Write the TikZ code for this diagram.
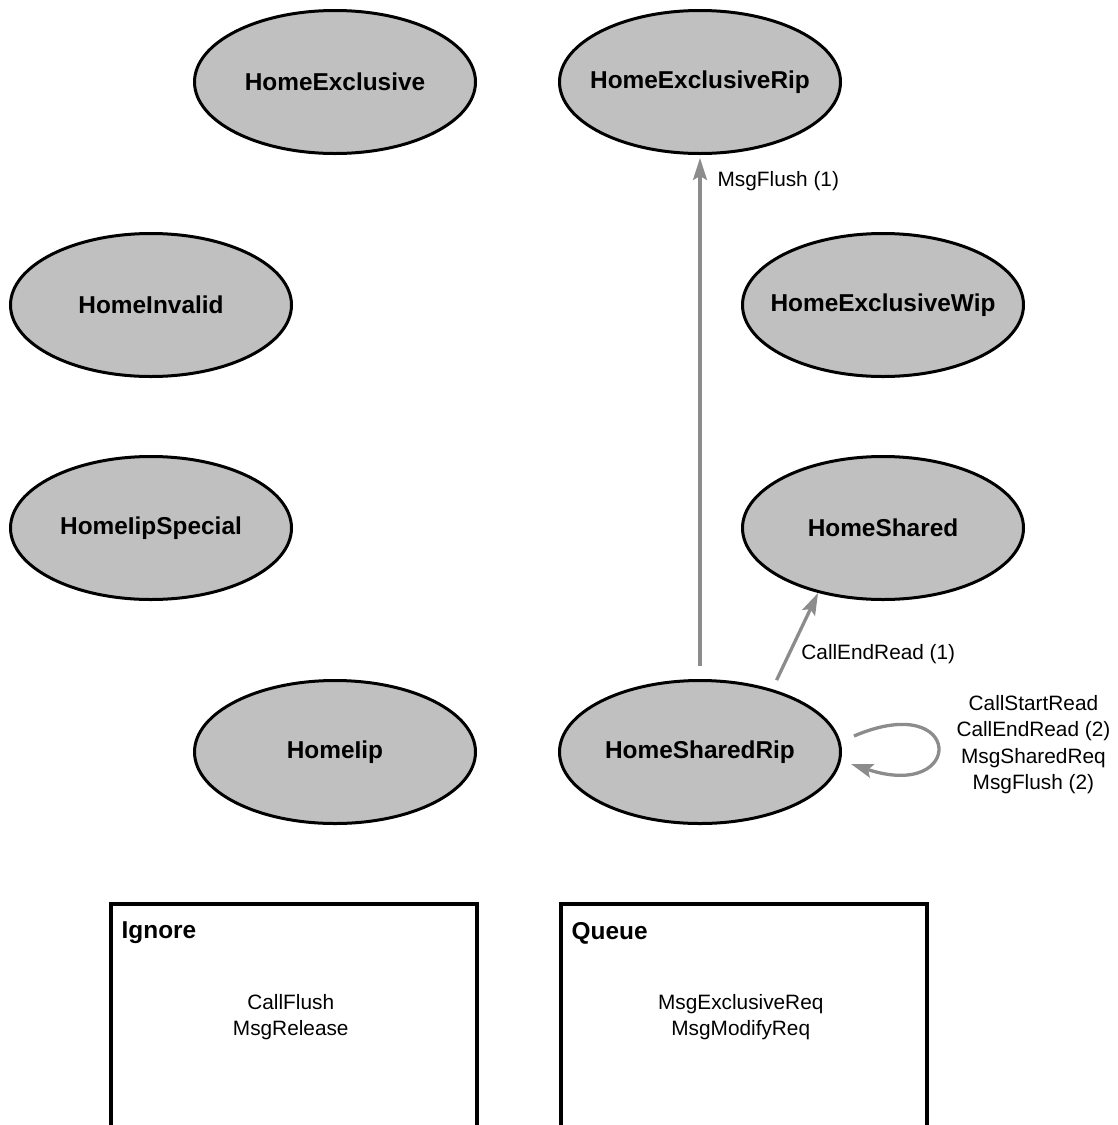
\documentclass[tikz,border=0pt]{standalone}
\usepackage{fontspec}
\setmainfont{Liberation Sans}
\usetikzlibrary{arrows.meta, positioning, shapes.geometric}

\definecolor{statefill}{RGB}{192,192,192}
\definecolor{edgegray}{RGB}{140,140,140}

\tikzset{
  state/.style={ellipse, draw=black, line width=3pt, fill=statefill,
    minimum width=281pt, minimum height=143pt, inner xsep=-40pt,
    font=\fontsize{24.4}{29}\selectfont\bfseries},
  edge/.style={draw=edgegray, line width=3.3pt,
    -{Stealth[length=22pt, width=14pt, inset=4pt]}},
  elabel/.style={font=\fontsize{20.8}{26.5}\selectfont, inner sep=0pt},
  group/.style={draw=black, line width=4pt, outer sep=0pt,
    minimum width=366.5pt, minimum height=300pt, anchor=north west},
  grouptitle/.style={font=\fontsize{24.4}{29}\selectfont\bfseries,
    inner sep=0pt, anchor=north west}
}

\begin{document}
\begin{tikzpicture}[x=1pt, y=1pt]
        \useasboundingbox (0,0) rectangle (1118,-1125);
        \clip (0,0) rectangle (1118,-1125);

        % States
        \node[state] (excl) at (335,-82) {HomeExclusive};
        \node[state, right of=excl, node distance=365pt] (exclrip) {HomeExclusiveRip};
        \node[state] (inval) at (151,-305) {HomeInvalid};
        \node[state, right of=inval, node distance=732pt] (exclwip) {HomeExclusiveWip};
        \node[state, below of=inval, node distance=223pt] (iipspecial) {HomeIipSpecial};
        \node[state, below of=exclwip, node distance=223pt] (shared) {HomeShared};
        \node[state, below of=excl, node distance=670pt] (iip) {HomeIip};
        \node[state, below of=exclrip, node distance=670pt] (sharedrip) {HomeSharedRip};

        % Transitions
        \draw[edge, shorten <=13pt, shorten >=3pt] (sharedrip.north) --
            node[elabel, anchor=west, pos=0.95, xshift=16pt] (lflush) {MsgFlush (1)} (exclrip.south);
        \draw[edge, shorten <=10pt] (sharedrip.41) --
            node[elabel, anchor=west, pos=0.36, xshift=11pt] (lendread) {CallEndRead (1)} (shared.225);
        \draw[edge] ([shift={(12,16)}]sharedrip.east) .. controls +(110,47) and +(115,-38) ..
            node[elabel, anchor=west, align=center, xshift=18pt, yshift=2pt] (lloop)
            {CallStartRead\\CallEndRead (2)\\MsgSharedReq\\MsgFlush (2)}
            ([shift={(9,-12)}]sharedrip.east);

        % Ignore and queue boxes
        \node[group] (ignore) at (110.5,-904) {};
        \node[grouptitle] (ignoretitle) at ([shift={(11,-18)}]ignore.north west) {Ignore};
        \node[elabel, align=center] (ignorelist) at ([shift={(-3,-113)}]ignore.north) {CallFlush\\MsgRelease};

        \node[group] (queue) at (560.5,-904) {};
        \node[grouptitle] (queuetitle) at ([shift={(11,-18)}]queue.north west) {Queue};
        \node[elabel, align=center] (queuelist) at ([shift={(-3,-113)}]queue.north) {MsgExclusiveReq\\MsgModifyReq};
\end{tikzpicture}
\end{document}
